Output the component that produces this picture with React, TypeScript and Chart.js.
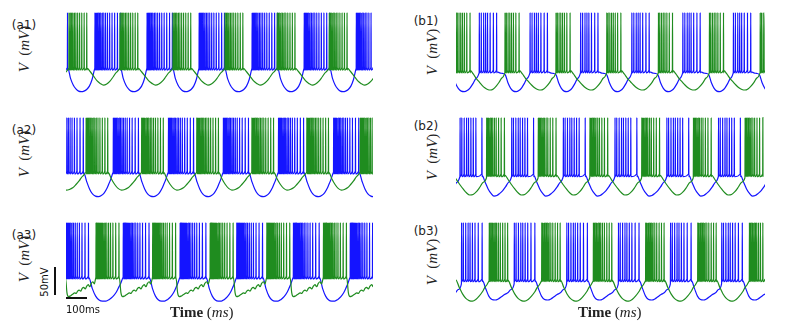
import React, { useEffect, useRef } from "react";
import { Chart, registerables } from "chart.js";
Chart.register(...registerables);

const BLUE = "#1414ff";
const GREEN = "#1f8c1f";
const PEAK = 49;
const V_MIN = -100;
const V_MAX = 50;

// ---- panel a1 ----
const a1BlueOnsets = [-110, 134, 375, 616, 861, 1102, 1343];
const a1GreenOnsets = [-227, 14, 250, 495, 736, 977, 1218, 1459];
const a1BlueISI = [5, 5, 5, 6, 6, 7, 7, 8, 9, 10, 11, 12, 13, 13];
const a1GreenISI = [6, 6, 6, 7, 7, 8, 9, 10, 11, 12];
const a1BlueTrough = [-52, -70, -82, -89, -93, -94, -93, -90, -84, -72, -52];
const a1GreenTrough = [-52, -58, -66, -74, -79, -82, -80, -75, -67, -59, -52];

// ---- panel a2 ----
const a2BlueOnsets = [-36, 219, 474, 728, 983, 1238, 1493];
const a2GreenOnsets = [-162, 93, 350, 605, 860, 1114, 1361];
const a2BlueISI = [5, 5, 5, 6, 6, 6, 7, 7, 8, 9, 11, 12, 14, 15];
const a2GreenISI = [5, 5, 5, 6, 6, 6, 7, 7, 8, 9, 11, 12, 13];
const a2BlueTrough = [-50, -66, -80, -89, -93, -94, -92, -87, -78, -65, -50];
const a2GreenTrough = [-50, -62, -72, -79, -82, -81, -78, -72, -65, -57, -50];

// ---- panel a3 ----
const a3BlueOnsets = [-15, 265, 528, 790, 1052, 1315];
const a3GreenOnsets = [-110, 139, 401, 667, 929, 1191, 1453];
const a3BlueISI = [4, 4, 4, 4, 5, 5, 5, 6, 6, 7, 8, 9, 10, 12, 14, 16];
const a3GreenISI = [4, 4, 4, 4, 5, 5, 5, 6, 6, 7, 8, 9, 11, 13, 15];
const a3BlueTrough = [-50, -70, -84, -91, -93, -93, -90, -85, -77, -65, -50];
const a3GreenTrough = [-50, -78, -85, -84, -82, -80, -78, -79, -75, -73, -75, -70, -68, -71, -66, -63, -67, -61, -58, -62, -50];

// ---- panel b1 ----
const b1BlueOnsets = [-140, 108, 343, 577, 814, 1050, 1284, 1520];
const b1GreenOnsets = [0, 227, 463, 698, 937, 1173, 1408];
const b1BlueISI = [9, 11, 9, 9, 12, 15, 15];
const b1GreenISI = [6, 8, 8, 8, 9, 11, 15];
const b1BlueTrough = [-58, -60, -61, -63, -78, -88, -93, -94, -92, -87, -79, -70, -60];
const b1GreenTrough = [-56, -62, -70, -76, -82, -87, -90, -91, -89, -84, -77, -69, -60];

// ---- panel b2 ----
const b2BlueOnsets = [-220, 19, 258, 497, 736, 976, 1215, 1454];
const b2GreenOnsets = [-97, 142, 381, 620, 860, 1099, 1338];
const b2BlueISI = [8, 11, 11, 9, 11, 11, 12, 28];
const b2GreenISI = [5, 5, 6, 6, 6, 8, 8, 11, 12, 15];
const b2BlueTrough = [-56, -68, -80, -88, -93, -92, -88, -83, -76, -68, -58];
const b2GreenTrough = [-55, -63, -72, -80, -87, -91, -90, -85, -77, -68, -60];

// ---- panel b3 ----
const b3BlueOnsets = [-215, 26, 270, 513, 752, 993, 1230, 1470];
const b3GreenOnsets = [-87, 154, 397, 636, 878, 1119, 1358, 1600];
const b3BlueISI = [8, 11, 11, 9, 11, 12, 15, 18];
const b3GreenISI = [5, 6, 5, 6, 6, 6, 8, 9, 11, 11, 12];
const b3BlueTrough = [-56, -70, -84, -90, -91, -89, -85, -81, -78, -72, -62];
const b3GreenTrough = [-55, -68, -80, -88, -92, -93, -90, -84, -76, -66, -56];

const panelLabels = ["(a1)", "(a2)", "(a3)", "(b1)", "(b2)", "(b3)"];
const baseA = [-52, -50, -50];
const baseB = [-57, -55, -55];

type Pt = { x: number; y: number };

function buildTrace(onsets: number[], isi: number[], trough: number[], base: number): Pt[] {
  const pts: Pt[] = [];
  for (let i = 0; i < onsets.length; i++) {
    let s = onsets[i];
    const spikes = [s];
    for (const d of isi) {
      s += d;
      spikes.push(s);
    }
    for (const sp of spikes) {
      pts.push({ x: sp - 0.7, y: base + 2 });
      pts.push({ x: sp, y: PEAK });
      pts.push({ x: sp + 0.7, y: base - 3 });
    }
    if (i + 1 < onsets.length) {
      const t0 = s + 1.5;
      const t1 = onsets[i + 1] - 1;
      const n = trough.length;
      for (let k = 0; k < n; k++) pts.push({ x: t0 + ((t1 - t0) * k) / (n - 1), y: trough[k] });
    }
  }
  return pts;
}

type Spec = {
  left: number;
  top: number;
  width: number;
  height: number;
  xMax: number;
  blue: Pt[];
  green: Pt[];
};

const COL_A = { left: 66, width: 307, xMax: 1420 };
const COL_B = { left: 456, width: 309, xMax: 1430 };
const ROW_TOPS = [12, 117, 222];
const PANEL_H = 83;

const specs: Spec[] = [
  { ...COL_A, top: ROW_TOPS[0], height: PANEL_H, blue: buildTrace(a1BlueOnsets, a1BlueISI, a1BlueTrough, baseA[0]), green: buildTrace(a1GreenOnsets, a1GreenISI, a1GreenTrough, baseA[0]) },
  { ...COL_A, top: ROW_TOPS[1], height: PANEL_H, blue: buildTrace(a2BlueOnsets, a2BlueISI, a2BlueTrough, baseA[1]), green: buildTrace(a2GreenOnsets, a2GreenISI, a2GreenTrough, baseA[1]) },
  { ...COL_A, top: ROW_TOPS[2], height: PANEL_H, blue: buildTrace(a3BlueOnsets, a3BlueISI, a3BlueTrough, baseA[2]), green: buildTrace(a3GreenOnsets, a3GreenISI, a3GreenTrough, baseA[2]) },
  { ...COL_B, top: ROW_TOPS[0], height: PANEL_H, blue: buildTrace(b1BlueOnsets, b1BlueISI, b1BlueTrough, baseB[0]), green: buildTrace(b1GreenOnsets, b1GreenISI, b1GreenTrough, baseB[0]) },
  { ...COL_B, top: ROW_TOPS[1], height: PANEL_H, blue: buildTrace(b2BlueOnsets, b2BlueISI, b2BlueTrough, baseB[1]), green: buildTrace(b2GreenOnsets, b2GreenISI, b2GreenTrough, baseB[1]) },
  { ...COL_B, top: ROW_TOPS[2], height: PANEL_H, blue: buildTrace(b3BlueOnsets, b3BlueISI, b3BlueTrough, baseB[2]), green: buildTrace(b3GreenOnsets, b3GreenISI, b3GreenTrough, baseB[2]) },
];

function Panel({ spec }: { spec: Spec }) {
  const ref = useRef<HTMLCanvasElement | null>(null);
  useEffect(() => {
    if (!ref.current) return;
    const ds = (data: Pt[], color: string) => ({
      data,
      borderColor: color,
      borderWidth: 1.2,
      pointRadius: 0,
      fill: false,
      cubicInterpolationMode: "monotone" as const,
    });
    const chart = new Chart(ref.current, {
      type: "line",
      data: { datasets: [ds(spec.green, GREEN), ds(spec.blue, BLUE)] },
      options: {
        animation: false,
        responsive: false,
        events: [],
        layout: { padding: 0 },
        plugins: { legend: { display: false }, tooltip: { enabled: false } },
        scales: {
          x: { type: "linear", min: 0, max: spec.xMax, display: false },
          y: { min: V_MIN, max: V_MAX, display: false },
        },
      },
    });
    return () => chart.destroy();
  }, [spec]);
  return (
    <canvas
      ref={ref}
      width={spec.width}
      height={spec.height}
      style={{ position: "absolute", left: spec.left, top: spec.top, width: spec.width, height: spec.height }}
    />
  );
}

const serif = "'Liberation Serif', 'DejaVu Serif', serif";
const sans = "'DejaVu Sans', sans-serif";

function VLabel({ cx, cy }: { cx: number; cy: number }) {
  return (
    <div
      style={{
        position: "absolute",
        left: cx,
        top: cy,
        transform: "translate(-50%, -50%) rotate(-90deg)",
        whiteSpace: "nowrap",
        fontFamily: serif,
        fontSize: 15,
        color: "#222",
        lineHeight: 1,
      }}
    >
      <i>V</i>&nbsp;&nbsp;(<i>mV</i>)
    </div>
  );
}

function Tag({ cx, cy, text }: { cx: number; cy: number; text: string }) {
  return (
    <div
      style={{
        position: "absolute",
        left: cx,
        top: cy,
        transform: "translate(-50%, -50%)",
        whiteSpace: "nowrap",
        fontFamily: sans,
        fontSize: 12,
        color: "#222",
        lineHeight: 1,
      }}
    >
      {text}
    </div>
  );
}

function TimeLabel({ left }: { left: number }) {
  return (
    <div
      style={{
        position: "absolute",
        left,
        top: 305,
        whiteSpace: "nowrap",
        fontFamily: serif,
        fontSize: 15,
        color: "#222",
        lineHeight: 1,
      }}
    >
      <b>Time</b>&nbsp;(<i>ms</i>)
    </div>
  );
}

export default function App() {
  return (
    <div style={{ position: "fixed", left: 0, top: 0, width: 786, height: 328, background: "#fff", overflow: "hidden" }}>
      {specs.map((s, i) => (
        <Panel key={i} spec={s} />
      ))}
      {ROW_TOPS.map((t, i) => (
        <React.Fragment key={i}>
          <VLabel cx={24} cy={t + 37} />
          <Tag cx={24} cy={t + 13} text={panelLabels[i]} />
          <VLabel cx={432} cy={t + 40} />
          <Tag cx={426} cy={t + 9} text={panelLabels[i + 3]} />
        </React.Fragment>
      ))}
      <TimeLabel left={170} />
      <TimeLabel left={578} />
      {/* scale bars */}
      <div style={{ position: "absolute", left: 54, top: 267, width: 1.5, height: 28, background: "#111" }} />
      <div style={{ position: "absolute", left: 66, top: 297, width: 21, height: 1.5, background: "#111" }} />
      <div
        style={{
          position: "absolute",
          left: 45,
          top: 282,
          transform: "translate(-50%, -50%) rotate(-90deg)",
          whiteSpace: "nowrap",
          fontFamily: sans,
          fontSize: 10,
          color: "#111",
          lineHeight: 1,
        }}
      >
        50mV
      </div>
      <div
        style={{
          position: "absolute",
          left: 66,
          top: 305,
          whiteSpace: "nowrap",
          fontFamily: sans,
          fontSize: 10,
          color: "#111",
          lineHeight: 1,
        }}
      >
        100ms
      </div>
    </div>
  );
}
